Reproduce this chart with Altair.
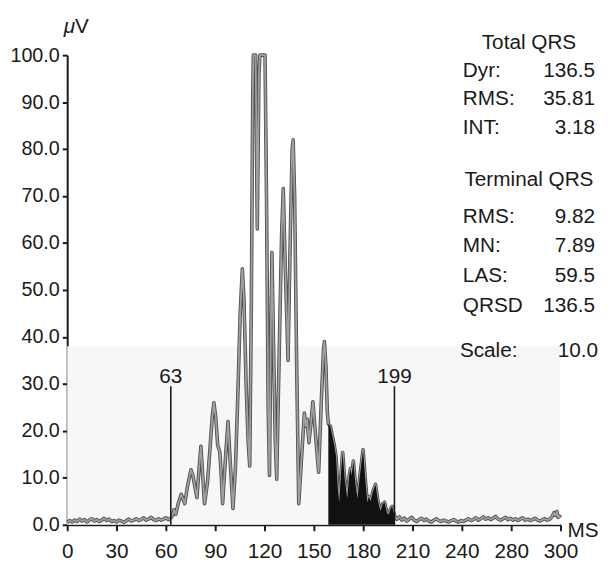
import altair as alt
import pandas as pd

# ---------------- data ----------------
t_ms = [0, 1.5, 3, 4.5, 6, 7.5, 9, 10.5, 12, 13.5, 15, 16.5, 18, 19.5, 21, 22.5, 24, 25.5, 27, 28.5,
        30, 31.5, 33, 34.5, 36, 37.5, 39, 40.5, 42, 43.5, 45, 46.5, 48, 49.5, 51, 52.5, 54, 55.5, 57, 58.5,
        60, 61.5, 63,
        64, 65, 66, 67.5, 69.3, 70.5, 71.5, 73.3, 75.3, 76.5, 77.7, 78.9, 80.2, 81.3, 82.3, 83.5, 85.3, 87,
        88.2, 89.2, 90.3, 91.5, 92.8, 93.6, 94.5, 96.2, 97.8, 99.2, 100.8, 102.3, 103.8, 105.2, 106.5, 107.5,
        108.8, 110, 111, 112, 112.8, 113.2, 114.6, 115.6, 116.6, 117.2, 120.3, 121.2, 122.2, 123, 123.8,
        124.5, 125.5, 126.5, 127.4, 129, 130.4, 131.4, 132.6, 134.3, 135.7, 136.8, 137.4, 138.3, 139.5,
        140.8, 142.3, 144.2, 145.2, 145.9, 147, 148.3, 149.4, 150.8, 152.9, 154.5, 155.8, 156.4, 157.3,
        158.2, 158.8, 160, 161.2, 162.4, 163.5, 164.5, 165.4, 166.5, 167.5, 168.7, 170.3, 171.5, 172.3,
        173, 174, 175.2, 176.5, 178, 179.9, 181.2, 182.5, 183.5, 184.5, 185.8, 187.5, 189, 190.5, 191.8,
        193, 194.5, 195.5, 196.8, 197.6, 199,
        200.5, 202, 203.5, 205, 206.5, 208, 209.5, 211, 212.5, 214, 215.5, 217, 218.5, 220, 221.5, 223,
        224.5, 226, 227.5, 229, 230.5, 232, 233.5, 235, 236.5, 238, 239.5, 241, 242.5, 244, 245.5, 247,
        248.5, 250, 251.5, 253, 254.5, 256, 257.5, 259, 260.5, 262, 263.5, 265, 266.5, 268, 269.5, 271,
        272.5, 274, 275.5, 277, 278.5, 280, 281.5, 283, 284.5, 286, 287.5, 289, 290.5, 292, 293.5, 295,
        296, 297, 297.8, 298.5, 299.2, 300]
uv = [0.5, 0.9, 0.6, 1.0, 0.7, 1.2, 0.8, 1.1, 0.6, 1.0, 1.3, 0.8, 1.1, 0.7, 1.0, 1.4, 0.9, 1.2, 0.7, 0.9,
      0.6, 1.0, 0.8, 0.5, 0.9, 1.2, 0.8, 1.0, 1.3, 0.9, 1.1, 1.5, 1.0, 1.2, 1.6, 1.1, 0.9, 1.3, 1.0, 1.2,
      1.5, 1.1, 1.4,
      2.0, 3.2, 2.2, 4.5, 6.5, 5.5, 4.5, 8.5, 11.7, 10.4, 8.0, 5.8, 12, 16.7, 11, 4.5, 9, 17,
      23, 26, 23, 17, 15.5, 11, 4.5, 14, 22, 13, 3.5, 12, 28, 45, 54.5, 48,
      30, 18, 12.5, 48, 90, 100, 100, 63, 96, 100, 100, 70, 25, 10.5, 40,
      58, 38, 18, 9.7, 38, 62, 71.6, 55, 35, 62, 80, 82, 70, 35,
      4.5, 13, 23.8, 21, 22.5, 17.5, 22, 26.2, 20, 11.2, 26, 37, 39, 34,
      24, 21.5, 21, 19, 17, 14.6, 8, 4.8, 11, 15.4, 10, 5.6, 10.5, 12,
      10.5, 13.6, 9, 5.6, 10.5, 16, 10, 4.8, 6, 5, 7, 8.6, 5, 3, 4.4,
      4.8, 2.5, 2.2, 3.5, 3.9, 2.0,
      1.2, 1.7, 1.0, 1.4, 0.8, 1.2, 1.6, 1.0, 0.7, 1.1, 1.4, 0.9, 1.2, 0.8, 0.6, 1.0,
      1.3, 0.9, 0.7, 1.0, 0.8, 0.6, 0.9, 1.1, 0.8, 0.6, 0.9, 0.7, 1.0, 1.3, 0.9, 1.1,
      1.5, 1.0, 1.3, 1.7, 1.2, 1.5, 1.1, 1.4, 1.8, 1.2, 1.0, 1.3, 1.6, 1.1, 1.4, 1.0,
      1.3, 0.9, 1.2, 1.5, 1.0, 1.2, 0.9, 1.1, 1.4, 1.0, 0.8, 1.1, 1.3, 1.0, 1.2, 1.8,
      2.6, 2.0, 2.8, 1.6, 1.9, 1.5]

x_ticks = [0, 30, 60, 90, 120, 150, 180, 210, 240, 270, 300]
x_tick_labels = ["0", "30", "60", "90", "120", "150", "180", "210", "240", "280", "300"]
y_ticks = [0, 10, 20, 30, 40, 50, 60, 70, 80, 90, 100]

markers = [63, 199]
marker_labels = ["63", "199"]
terminal_start = 158.8
terminal_end = 199
band_top = 38

title_total = "Total QRS"
total_keys = ["Dyr:", "RMS:", "INT:"]
total_vals = ["136.5", "35.81", "3.18"]
title_terminal = "Terminal QRS"
term_keys = ["RMS:", "MN:", "LAS:", "QRSD"]
term_vals = ["9.82", "7.89", "59.5", "136.5"]
scale_key = "Scale:"
scale_val = "10.0"
unit_mu = "\u03bc"
unit_v = "V"
unit_x = "MS"

# ---------------- chart ----------------
FONT = "Liberation Sans, Arial, sans-serif"
FS = 21
INK = "#1a1a1a"

sig = pd.DataFrame({"t": t_ms, "v": uv})
term = sig[(sig["t"] >= terminal_start) & (sig["t"] <= terminal_end)]

label_expr = " : ".join(
    f"datum.value == {v} ? '{lab}'" for v, lab in zip(x_ticks, x_tick_labels)
) + " : datum.label"

xscale = alt.Scale(domain=[0, 300], nice=False, zero=False)
yscale = alt.Scale(domain=[0, 100], nice=False)
xaxis = alt.Axis(values=x_ticks, labelExpr=label_expr, title=None, grid=False,
                 domainColor=INK, domainWidth=2, tickColor=INK, tickWidth=2, tickSize=6,
                 labelFont=FONT, labelFontSize=FS, labelColor=INK, labelPadding=10,
                 labelFlush=False, labelOverlap=False)
yaxis = alt.Axis(values=y_ticks, format=".1f", title=None, grid=False,
                 domainColor=INK, domainWidth=2, tickColor=INK, tickWidth=2, tickSize=5,
                 labelFont=FONT, labelFontSize=20, labelColor=INK, labelPadding=3,
                 labelFlush=False, labelOverlap=False)

band = alt.Chart(pd.DataFrame({"a": [0]})).mark_rect(color="#f7f7f7").encode(
    x=alt.X(datum=0, scale=xscale, axis=xaxis), x2=alt.datum(300),
    y=alt.Y(datum=0, scale=yscale, axis=yaxis), y2=alt.datum(band_top))

line_dark = alt.Chart(sig).mark_line(color="#505050", strokeWidth=3.6, strokeJoin="round").encode(
    x=alt.X("t:Q", scale=xscale, axis=xaxis),
    y=alt.Y("v:Q", scale=yscale, axis=yaxis),
    order="t:Q")
line_light = alt.Chart(sig).mark_line(color="#a0a0a0", strokeWidth=1.8, strokeJoin="round").encode(
    x=alt.X("t:Q", scale=xscale, axis=xaxis),
    y=alt.Y("v:Q", scale=yscale, axis=yaxis),
    order="t:Q")

term_area = alt.Chart(term).mark_area(color="#111111", opacity=1, interpolate="linear").encode(
    x=alt.X("t:Q", scale=xscale, axis=xaxis),
    y=alt.Y("v:Q", scale=yscale, axis=yaxis, stack=None),
    y2=alt.datum(0))

mk = pd.DataFrame({"m": markers, "lab": marker_labels})
rules = alt.Chart(mk).mark_rule(color=INK, strokeWidth=1.6).encode(
    x=alt.X("m:Q", scale=xscale, axis=xaxis),
    y=alt.Y(datum=0, scale=yscale, axis=yaxis), y2=alt.datum(29.5))
rule_text = alt.Chart(mk).mark_text(font=FONT, fontSize=FS, color=INK, baseline="middle").encode(
    x=alt.X("m:Q", scale=xscale, axis=xaxis),
    y=alt.Y(datum=31.5, scale=yscale, axis=yaxis),
    text="lab:N")


def txt(s, x, y, align="left", italic=False):
    return alt.Chart(pd.DataFrame({"s": [s]})).mark_text(
        font=FONT, fontSize=FS, color=INK, align=align, baseline="middle",
        fontStyle="italic" if italic else "normal"
    ).encode(text="s:N", x=alt.value(x), y=alt.value(y))


texts = [txt(title_total, 468, -12, "center")]
rows_total = [16, 45, 74]
for k, v, yy in zip(total_keys, total_vals, rows_total):
    texts += [txt(k, 401, yy), txt(v, 535, yy, "right")]
texts.append(txt(title_terminal, 468, 127, "center"))
rows_term = [164, 194, 224, 254]
for k, v, yy in zip(term_keys, term_vals, rows_term):
    texts += [txt(k, 401, yy), txt(v, 535, yy, "right")]
texts += [txt(scale_key, 398, 300), txt(scale_val, 538, 300, "right")]
texts += [txt(unit_mu, 8, -28, "right", italic=True), txt(unit_v, 8, -28, "left")]
texts += [txt(unit_x, 507, 482, "left")]

chart = alt.layer(band, line_dark, line_light, term_area, rules, rule_text, *texts).properties(
    width=500, height=476,
    autosize=alt.AutoSizeParams(type="none"),
    padding={"left": 60, "top": 44, "right": 40, "bottom": 40},
    background="white",
).configure_view(stroke=None)

chart.save("out.html", embed_options={"renderer": "svg", "actions": False})
